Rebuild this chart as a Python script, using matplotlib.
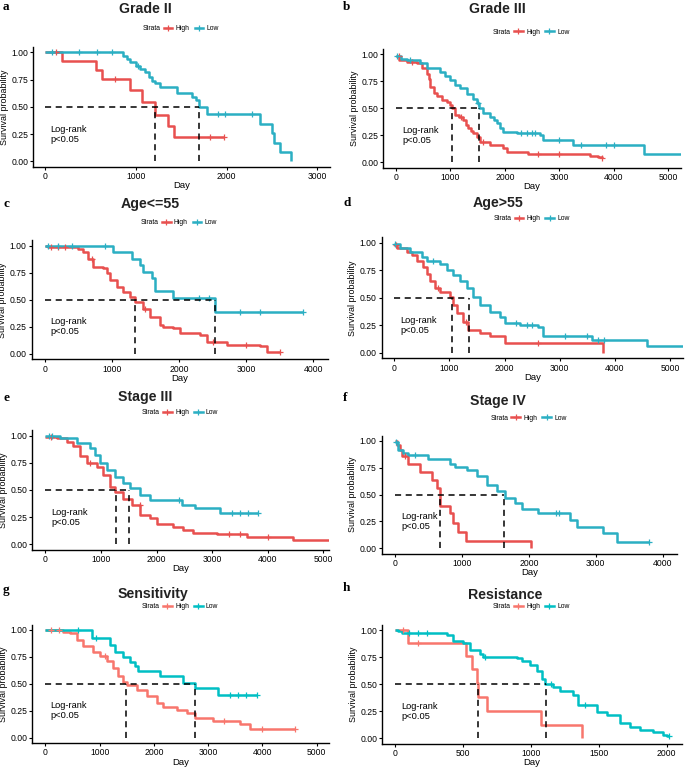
import numpy as np
import matplotlib
matplotlib.use("Agg")
import matplotlib.pyplot as plt
from matplotlib.lines import Line2D

plt.rcParams['font.family'] = ['Liberation Sans', 'DejaVu Sans']

W, H = 685, 767

# ---------------- data ----------------
titles = ["Grade II", "Grade III", "Age<=55", "Age>55",
          "Stage III", "Stage IV", "Sensitivity", "Resistance"]
letters = ["a", "b", "c", "d", "e", "f", "g", "h"]

# Grade II
a_high_t = [0, 180, 559, 621, 934, 1062, 1210, 1357, 1419, 1970]
a_high_s = [1.0, 0.923, 0.835, 0.755, 0.654, 0.544, 0.425, 0.324, 0.22, 0.22]
a_high_c = [120, 768, 1820, 1970]
a_low_t = [0, 860, 900, 930, 1000, 1040, 1100, 1140, 1180, 1210, 1260, 1450, 1620,
           1660, 1690, 1700, 1780, 2370, 2500, 2525, 2590, 2710]
a_low_s = [1.0, 0.969, 0.94, 0.91, 0.875, 0.85, 0.82, 0.77, 0.74, 0.72, 0.68, 0.63, 0.59,
           0.56, 0.53, 0.50, 0.43, 0.345, 0.26, 0.17, 0.085, 0.0]
a_low_c = [70, 370, 566, 732, 1020, 1900, 1980, 2280]

# Grade III
b_high_t = [0, 60, 196, 380, 470, 563, 600, 624, 700, 747, 850, 930, 1000, 1022, 1083, 1160,
            1236, 1290, 1328, 1380, 1420, 1480, 1542, 1726, 1970, 2032, 2430, 3562, 3700, 3776]
b_high_s = [0.98, 0.95, 0.93, 0.92, 0.87, 0.82, 0.77, 0.70, 0.64, 0.61, 0.58, 0.56, 0.53, 0.50,
            0.44, 0.42, 0.39, 0.35, 0.315, 0.29, 0.27, 0.23, 0.19, 0.16, 0.13, 0.10, 0.08, 0.06,
            0.05, 0.04]
b_high_c = [50, 300, 1200, 1600, 2600, 3000, 3776]
b_low_t = [0, 100, 196, 440, 563, 808, 900, 991, 1080, 1175, 1300, 1420, 1480, 1530, 1600,
           1726, 1800, 1848, 1910, 1970, 2216, 2644, 2705, 3256, 4553, 5245]
b_low_s = [0.98, 0.96, 0.95, 0.92, 0.87, 0.84, 0.80, 0.76, 0.72, 0.685, 0.63, 0.59, 0.55, 0.50,
           0.46, 0.42, 0.39, 0.36, 0.32, 0.284, 0.27, 0.25, 0.207, 0.16, 0.08, 0.08]
b_low_c = [20, 250, 1500, 2300, 2400, 2500, 2550, 3000, 3400, 3850, 4000]

# Age<=55
c_high_t = [0, 50, 427, 500, 576, 650, 725, 873, 923, 973, 1072, 1171, 1270, 1345, 1469,
            1568, 1717, 1767, 1916, 2015, 2313, 2412, 2715, 3206, 3305, 3504]
c_high_s = [1.0, 0.99, 0.985, 0.97, 0.945, 0.88, 0.80, 0.79, 0.745, 0.68, 0.62, 0.575, 0.53,
            0.48, 0.42, 0.34, 0.27, 0.25, 0.24, 0.19, 0.175, 0.11, 0.08, 0.07, 0.02, 0.02]
c_high_c = [100, 200, 300, 700, 1500, 2500, 3000, 3504]
c_low_t = [0, 1022, 1295, 1419, 1459, 1593, 1643, 1916, 2536, 3851]
c_low_s = [1.0, 0.94, 0.88, 0.82, 0.76, 0.70, 0.58, 0.52, 0.39, 0.39]
c_low_c = [50, 200, 400, 900, 2300, 2450, 2900, 3200, 3851]

# Age>55
d_high_t = [0, 42, 224, 314, 405, 526, 586, 647, 738, 828, 1010, 1070, 1131, 1251, 1342,
            1554, 1735, 2007, 3790]
d_high_s = [0.98, 0.95, 0.92, 0.89, 0.83, 0.78, 0.72, 0.65, 0.59, 0.555, 0.51, 0.435, 0.36,
            0.28, 0.21, 0.18, 0.15, 0.09, 0.0]
d_high_c = [30, 800, 1300, 2600]
d_low_t = [0, 103, 284, 496, 586, 828, 949, 1070, 1191, 1312, 1433, 1554, 1735, 1917, 2007,
           2280, 2612, 2703, 3579, 4577, 5260]
d_low_s = [0.99, 0.95, 0.92, 0.87, 0.83, 0.81, 0.75, 0.71, 0.65, 0.59, 0.51, 0.435, 0.375,
           0.33, 0.27, 0.255, 0.24, 0.15, 0.12, 0.06, 0.06]
d_low_c = [10, 700, 2200, 2400, 2500, 3100, 3500, 3700, 3800]

# Stage III
e_high_t = [0, 204, 384, 504, 623, 743, 923, 1043, 1163, 1253, 1403, 1553, 1703, 1883, 2002,
            2302, 2482, 2662, 3082, 3621, 4461, 5108]
e_high_s = [0.99, 0.975, 0.945, 0.90, 0.81, 0.745, 0.715, 0.64, 0.53, 0.485, 0.42, 0.36, 0.27,
            0.24, 0.19, 0.16, 0.13, 0.10, 0.09, 0.07, 0.04, 0.04]
e_high_c = [100, 800, 1700, 3300, 3500, 4000]
e_low_t = [0, 264, 564, 803, 893, 983, 1103, 1253, 1403, 1523, 1703, 1883, 2452, 2692, 3142, 3819]
e_low_s = [1.0, 0.975, 0.93, 0.885, 0.82, 0.745, 0.685, 0.62, 0.56, 0.515, 0.455, 0.41, 0.36,
           0.33, 0.29, 0.29]
e_low_c = [60, 120, 2400, 3350, 3500, 3650, 3819]

# Stage IV
f_high_t = [0, 20, 70, 95, 195, 369, 544, 618, 668, 818, 868, 943, 1057, 2030]
f_high_s = [1.0, 0.96, 0.915, 0.86, 0.79, 0.715, 0.64, 0.56, 0.39, 0.325, 0.233, 0.155, 0.07, 0.0]
f_high_c = [150]
f_low_t = [0, 45, 120, 195, 494, 818, 893, 1067, 1217, 1367, 1516, 1641, 1791, 1890, 2140,
           2614, 2714, 3112, 3312, 3800]
f_low_s = [0.99, 0.92, 0.885, 0.87, 0.83, 0.79, 0.755, 0.73, 0.67, 0.59, 0.53, 0.465, 0.42,
           0.37, 0.325, 0.26, 0.20, 0.14, 0.06, 0.06]
f_low_c = [10, 300, 2400, 2450, 3800]

# Sensitivity
g_high_t = [0, 332, 455, 577, 700, 885, 1007, 1130, 1253, 1345, 1437, 1499, 1683, 1867, 2052,
            2174, 2420, 2604, 2758, 3096, 3587, 3771, 4600]
g_high_s = [1.0, 0.985, 0.97, 0.91, 0.85, 0.80, 0.755, 0.71, 0.645, 0.57, 0.52, 0.49, 0.445,
            0.385, 0.32, 0.29, 0.26, 0.23, 0.185, 0.155, 0.125, 0.085, 0.085]
g_high_c = [100, 250, 1100, 3300, 4000, 4600]
g_low_t = [0, 854, 1192, 1284, 1437, 1560, 1652, 1714, 2113, 2531, 2758, 3188, 3894]
g_low_s = [1.0, 0.925, 0.86, 0.80, 0.75, 0.70, 0.665, 0.62, 0.57, 0.51, 0.465, 0.40, 0.40]
g_low_c = [600, 930, 3400, 3550, 3700, 3894]

# Resistance
h_high_t = [0, 96, 521, 563, 600, 612, 673, 1074, 1378]
h_high_s = [1.0, 0.885, 0.76, 0.64, 0.515, 0.385, 0.255, 0.125, 0.0]
h_high_c = [60, 170]
h_low_t = [0, 22, 47, 378, 428, 501, 550, 624, 649, 894, 931, 993, 1042, 1079, 1103, 1165,
           1214, 1312, 1349, 1484, 1558, 1656, 1730, 1803, 1902, 1975, 2000, 2020]
h_low_s = [1.0, 0.99, 0.975, 0.955, 0.90, 0.885, 0.82, 0.775, 0.75, 0.745, 0.715, 0.68, 0.62,
           0.545, 0.50, 0.47, 0.44, 0.395, 0.305, 0.245, 0.215, 0.14, 0.105, 0.075, 0.06,
           0.03, 0.015, 0.015]
h_low_c = [100, 170, 230, 660, 1150, 1400, 2020]

panels = [
    (a_high_t, a_high_s, a_high_c, a_low_t, a_low_s, a_low_c),
    (b_high_t, b_high_s, b_high_c, b_low_t, b_low_s, b_low_c),
    (c_high_t, c_high_s, c_high_c, c_low_t, c_low_s, c_low_c),
    (d_high_t, d_high_s, d_high_c, d_low_t, d_low_s, d_low_c),
    (e_high_t, e_high_s, e_high_c, e_low_t, e_low_s, e_low_c),
    (f_high_t, f_high_s, f_high_c, f_low_t, f_low_s, f_low_c),
    (g_high_t, g_high_s, g_high_c, g_low_t, g_low_s, g_low_c),
    (h_high_t, h_high_s, h_high_c, h_low_t, h_low_s, h_low_c),
]
medians = [(1210, 1695), (1022, 1530), (1345, 2536), (1040, 1360),
           (1265, 1511), (668, 1626), (1486, 2758), (612, 1108)]
xticks_list = [[0, 1000, 2000, 3000], [0, 1000, 2000, 3000, 4000, 5000],
               [0, 1000, 2000, 3000, 4000], [0, 1000, 2000, 3000, 4000, 5000],
               [0, 1000, 2000, 3000, 4000, 5000], [0, 1000, 2000, 3000, 4000],
               [0, 1000, 2000, 3000, 4000, 5000], [0, 500, 1000, 1500, 2000]]
xlims = [(-132, 3139), (-233, 5227), (-194, 4213), (-229, 5242),
         (-234, 5108), (-203, 4210), (-240, 5232), (-96, 2110)]
pval_x = [60, 116, 80, 103, 114, 85, 98, 47]

# ---------------- layout (pixels) ----------------
# left, right, top, bottom of axes
rects = [(33.3, 330, 46.9, 166.8), (383.3, 680.7, 48.9, 167.7),
         (31.7, 327.7, 240.3, 359.4), (381.7, 683.3, 237.2, 358.5),
         (32.3, 329.3, 430.2, 549.7), (381.7, 676.7, 435.6, 553.7),
         (32.3, 329.3, 624.6, 743.2), (382.3, 681.7, 624.8, 743.5)]
title_pos = [(145, 9), (497, 9), (150, 204), (498, 203),
             (145, 397), (498, 401), (153, 594), (505, 595)]
letter_pos = [(3, 7), (343, 7), (3, 204), (343, 203), (3, 398), (343, 398), (3, 590), (343, 588)]
legend_y = [29, 32, 223, 219, 413, 418, 607, 607]

col_a = ("#E8504F", "#2BAFC3")
col_b = ("#F8766D", "#00BFC4")

fig = plt.figure(figsize=(W / 100, H / 100), dpi=100)


def fx(px):
    return px / W


def fy(py):
    return 1 - py / H


def step_val(t, s, x):
    i = np.searchsorted(np.asarray(t), x, side='right') - 1
    i = max(0, min(i, len(s) - 1))
    return s[i]


for k in range(8):
    l, r, tp, bt = rects[k]
    ax = fig.add_axes([fx(l), fy(bt), fx(r) - fx(l), fy(tp) - fy(bt)])
    cols = col_b if k >= 6 else col_a
    ht, hs, hc, lt, ls, lc = panels[k]
    for (t, s, c, colr) in [(ht, hs, hc, cols[0]), (lt, ls, lc, cols[1])]:
        ax.step(t, s, where='post', color=colr, lw=1.8, solid_capstyle='butt', zorder=3)
        cy = [step_val(t, s, x) for x in c]
        ax.plot(c, cy, linestyle='none', marker='+', ms=4, mew=0.9, color=colr, zorder=4)
    m1, m2 = medians[k]
    ax.plot([0, max(m1, m2)], [0.5, 0.5], color='black', lw=1.1, ls=(0, (4, 3)), zorder=5)
    for m in (m1, m2):
        ax.plot([m, m], [0, 0.5], color='black', lw=1.1, ls=(0, (4, 3)), zorder=5)
    ax.text(pval_x[k], 0.25, "Log-rank\np<0.05", fontsize=6.7, va='center', ha='left',
            linespacing=1.15)
    ax.set_xlim(*xlims[k])
    ax.set_ylim(-0.05, 1.05)
    ax.set_xticks(xticks_list[k])
    ax.set_yticks([0, 0.25, 0.5, 0.75, 1.0])
    ax.set_yticklabels(["0.00", "0.25", "0.50", "0.75", "1.00"])
    ax.tick_params(labelsize=6.2, length=2.5, width=0.8, pad=1.2, colors='black')
    for sp in ['top', 'right']:
        ax.spines[sp].set_visible(False)
    for sp in ['left', 'bottom']:
        ax.spines[sp].set_linewidth(1.0)
    ax.set_xlabel("Day", fontsize=6.8, labelpad=0.2)
    ax.set_ylabel("Survival probability", fontsize=6.4, labelpad=1.5)

    tx, ty = title_pos[k]
    fig.text(fx(tx), fy(ty), titles[k], fontsize=10.2, fontweight='bold', ha='center', va='center',
             color='#222222')
    lx, ly = letter_pos[k]
    fig.text(fx(lx), fy(ly), letters[k], fontsize=9.5, fontweight='bold', ha='left', va='center',
             family=['Liberation Serif', 'DejaVu Serif'])
    # legend
    cx = (l + r) / 2
    yy = legend_y[k]
    fig.text(fx(cx - 39), fy(yy), "Strata", fontsize=4.9, ha='left', va='center')
    handles = [Line2D([], [], color=cols[0], lw=1.8, marker='+', ms=4, mew=0.9),
               Line2D([], [], color=cols[1], lw=1.8, marker='+', ms=4, mew=0.9)]
    fig.legend(handles, ["High", "Low"], loc='center left', bbox_to_anchor=(fx(cx - 18), fy(yy)),
               ncol=2, frameon=False, fontsize=4.9, handlelength=1.3, handletextpad=0.5,
               columnspacing=0.7, borderpad=0, borderaxespad=0)

fig.savefig("out.png", dpi=100)
